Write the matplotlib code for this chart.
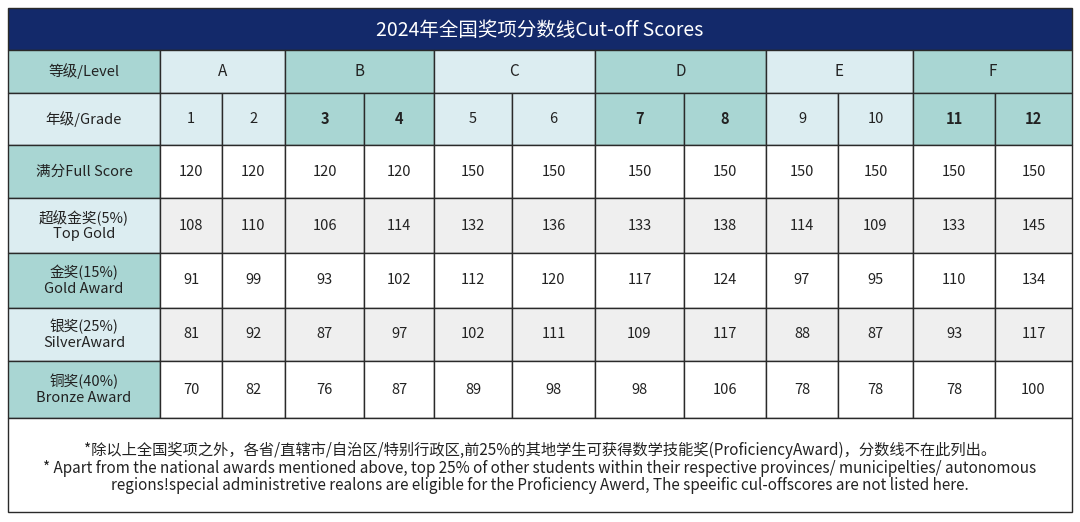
import matplotlib
matplotlib.use("Agg")
import matplotlib.pyplot as plt
from matplotlib.patches import Rectangle

plt.rcParams["font.family"] = ["Noto Sans CJK SC", "DejaVu Sans"]

title = "2024年全国奖项分数线Cut-off Scores"
levels = ["A", "B", "C", "D", "E", "F"]
grades = ["1", "2", "3", "4", "5", "6", "7", "8", "9", "10", "11", "12"]
row_labels = ["满分Full Score", "超级金奖(5%)\nTop Gold", "金奖(15%)\nGold Award",
              "银奖(25%)\nSilverAward", "铜奖(40%)\nBronze Award"]
full_score = [120, 120, 120, 120, 150, 150, 150, 150, 150, 150, 150, 150]
top_gold = [108, 110, 106, 114, 132, 136, 133, 138, 114, 109, 133, 145]
gold = [91, 99, 93, 102, 112, 120, 117, 124, 97, 95, 110, 134]
silver = [81, 92, 87, 97, 102, 111, 109, 117, 88, 87, 93, 117]
bronze = [70, 82, 76, 87, 89, 98, 98, 106, 78, 78, 78, 100]
note = ("*除以上全国奖项之外，各省/直辖市/自治区/特别行政区,前25%的其地学生可获得数学技能奖(ProficiencyAward)，分数线不在此列出。\n"
        "* Apart from the national awards mentioned above, top 25% of other students within their respective provinces/ municipelties/ autonomous\n"
        "regions!special administretive realons are eligible for the Proficiency Awerd, The speeific cul-offscores are not listed here.")

W, H = 1080, 522
fig = plt.figure(figsize=(W / 100, H / 100), dpi=100)
ax = fig.add_axes([0, 0, 1, 1])
ax.set_xlim(0, W); ax.set_ylim(H, 0); ax.axis("off")

NAVY = "#13296a"; TEAL = "#a9d6d3"; LIGHT = "#dcedf1"; GRAY = "#efefef"; LINE = "#2a2a2a"
xs = [8, 160, 222, 285, 364, 434, 512, 595, 684, 766, 838, 913, 995, 1072]
ys = [50, 93, 145, 198, 253, 308, 361, 418]

def rect(x0, y0, x1, y1, fc):
    ax.add_patch(Rectangle((x0, y0), x1 - x0, y1 - y0, fc=fc, ec=LINE, lw=1.0))

rect(8, 8, 1072, 50, NAVY)
ax.text(540, 30, title, color="white", fontsize=14, ha="center", va="center")

lab_colors = [TEAL, LIGHT, TEAL, LIGHT, TEAL, LIGHT, TEAL]
lab_texts = ["等级/Level", "年级/Grade"] + row_labels
for i in range(7):
    rect(xs[0], ys[i], xs[1], ys[i + 1], lab_colors[i])
    ax.text((xs[0] + xs[1]) / 2, (ys[i] + ys[i + 1]) / 2, lab_texts[i], fontsize=10.5,
            ha="center", va="center", color="#222", linespacing=1.1)

for g, lv in enumerate(levels):
    fc = LIGHT if g % 2 == 0 else TEAL
    x0, x1 = xs[1 + 2 * g], xs[3 + 2 * g]
    rect(x0, ys[0], x1, ys[1], fc)
    ax.text((x0 + x1) / 2, (ys[0] + ys[1]) / 2, lv, fontsize=11, ha="center", va="center", color="#222")
    for k in range(2):
        c = 1 + 2 * g + k
        rect(xs[c], ys[1], xs[c + 1], ys[2], fc)
        ax.text((xs[c] + xs[c + 1]) / 2, (ys[1] + ys[2]) / 2, grades[c - 1], fontsize=10.5,
                ha="center", va="center", color="#222", fontweight="bold" if g % 2 else "normal")

data = [full_score, top_gold, gold, silver, bronze]
for r, vals in enumerate(data):
    fc = "white" if r % 2 == 0 else GRAY
    for c, v in enumerate(vals):
        rect(xs[c + 1], ys[r + 2], xs[c + 2], ys[r + 3], fc)
        ax.text((xs[c + 1] + xs[c + 2]) / 2, (ys[r + 2] + ys[r + 3]) / 2, str(v), fontsize=10.5,
                ha="center", va="center", color="#222")

rect(8, 418, 1072, 512, "white")
ax.text(540, 468, note, fontsize=11, ha="center", va="center", color="#222", linespacing=1.05)

fig.savefig("out.png", dpi=100, facecolor="white")
